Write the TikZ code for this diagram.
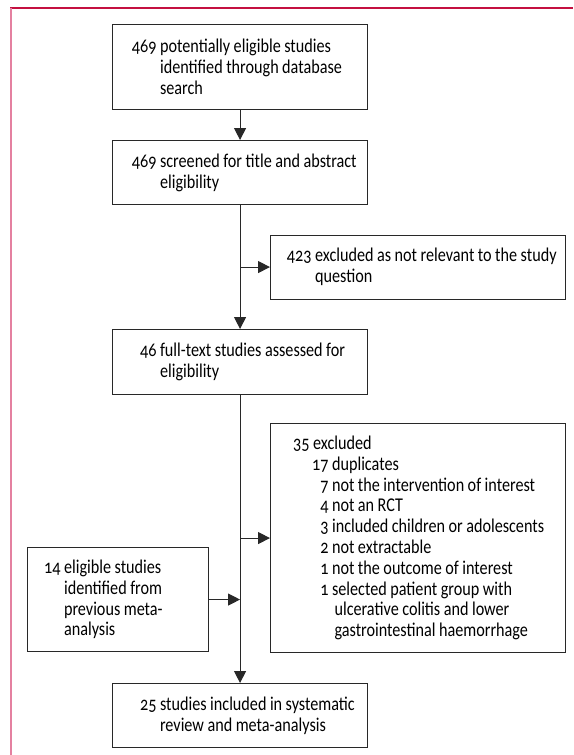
\documentclass[tikz,border=0pt]{standalone}
\usepackage{fontspec}
\setmainfont{Carlito}[Numbers=OldStyle, FakeStretch=0.83]
\usetikzlibrary{arrows.meta}
\definecolor{topred}{RGB}{196,16,64}
\definecolor{leftpink}{RGB}{228,128,160}
\definecolor{ink}{RGB}{40,40,40}
\newcommand{\fnum}[2]{\makebox[#1][r]{#2}\hspace{3.5pt}}
\newcommand{\fcont}[1]{\hspace*{#1}}
\newcommand{\boxfont}{\fontsize{19.5}{20.8}\selectfont}
\newcommand{\wsp}{\spaceskip=3.5pt plus 0.5pt minus 0.5pt\xspaceskip=3.5pt\relax}
\tikzset{
  boxnode/.style={draw=ink, line width=1.1pt, anchor=north west, inner sep=0pt,
    align=left, font=\boxfont, text=black},
  conn/.style={draw=ink, line width=1.1pt},
  arr/.style={conn, -{Triangle[length=12pt,width=12pt]}},
}
\begin{document}
\begin{tikzpicture}[x=1pt,y=-1pt]
\useasboundingbox (0,0) rectangle (573,755);
% frame
\draw[topred, line width=2pt] (10,8) -- (573,8);
\draw[leftpink, line width=2.5pt] (11,8) -- (11,755);
% boxes
\node[boxnode, minimum width=255pt, text width=255pt, minimum height=85pt] (b1) at (112,24)
  {\wsp\fnum{44pt}{469}potentially eligible studies\\\fcont{47.5pt}identified through database\\\fcont{47.5pt}search};
\node[boxnode, minimum width=255pt, text width=255pt, minimum height=64pt] (b2) at (112,140)
  {\wsp\fnum{44pt}{469}screened for title and abstract\\\fcont{47.5pt}eligibility};
\node[boxnode, minimum width=295pt, text width=295pt, minimum height=64pt] (b3) at (270,234.5)
  {\wsp\fnum{41pt}{423}excluded as not relevant to the study\\\fcont{44.5pt}question};
\node[boxnode, minimum width=255pt, text width=255pt, minimum height=65pt] (b4) at (112,329)
  {\wsp\fnum{44pt}{46}full-text studies assessed for\\\fcont{47.5pt}eligibility};
\node[boxnode, minimum width=295pt, text width=295pt, minimum height=229pt] (b5) at (270,423)
  {\wsp\fnum{39pt}{35}excluded\\
   \fnum{58pt}{17}duplicates\\
   \fnum{58pt}{7}not the intervention of interest\\
   \fnum{58pt}{4}not an RCT\\
   \fnum{58pt}{3}included children or adolescents\\
   \fnum{58pt}{2}not extractable\\
   \fnum{58pt}{1}not the outcome of interest\\
   \fnum{58pt}{1}selected patient group with\\
   \fcont{64pt}ulcerative colitis and lower\\
   \fcont{64pt}gastrointestinal haemorrhage};
\node[boxnode, minimum width=181.6pt, text width=181.6pt, minimum height=104pt] (b6) at (26.7,547)
  {\wsp\fnum{33.3pt}{14}eligible studies\\\fcont{36.8pt}identified from\\\fcont{36.8pt}previous meta-\\\fcont{36.8pt}analysis};
\node[boxnode, minimum width=255pt, text width=255pt, minimum height=64pt] (b7) at (112,683)
  {\wsp\fnum{44pt}{25}studies included in systematic\\\fcont{47.5pt}review and meta-analysis};
% connectors
\coordinate (j1) at (b2.south |- b3.west);
\coordinate (j2) at (b4.south |- b5.west);
\coordinate (j3) at (b4.south |- b6.east);
\draw[arr] (b1.south) -- (b2.north);
\draw[arr] (b2.south) -- (b4.north);
\draw[arr] (j1) -- (b3.west);
\draw[arr] (b4.south) -- (b7.north);
\draw[arr] (j2) -- (b5.west);
\draw[arr] (b6.east) -- (j3);
\end{tikzpicture}
\end{document}
